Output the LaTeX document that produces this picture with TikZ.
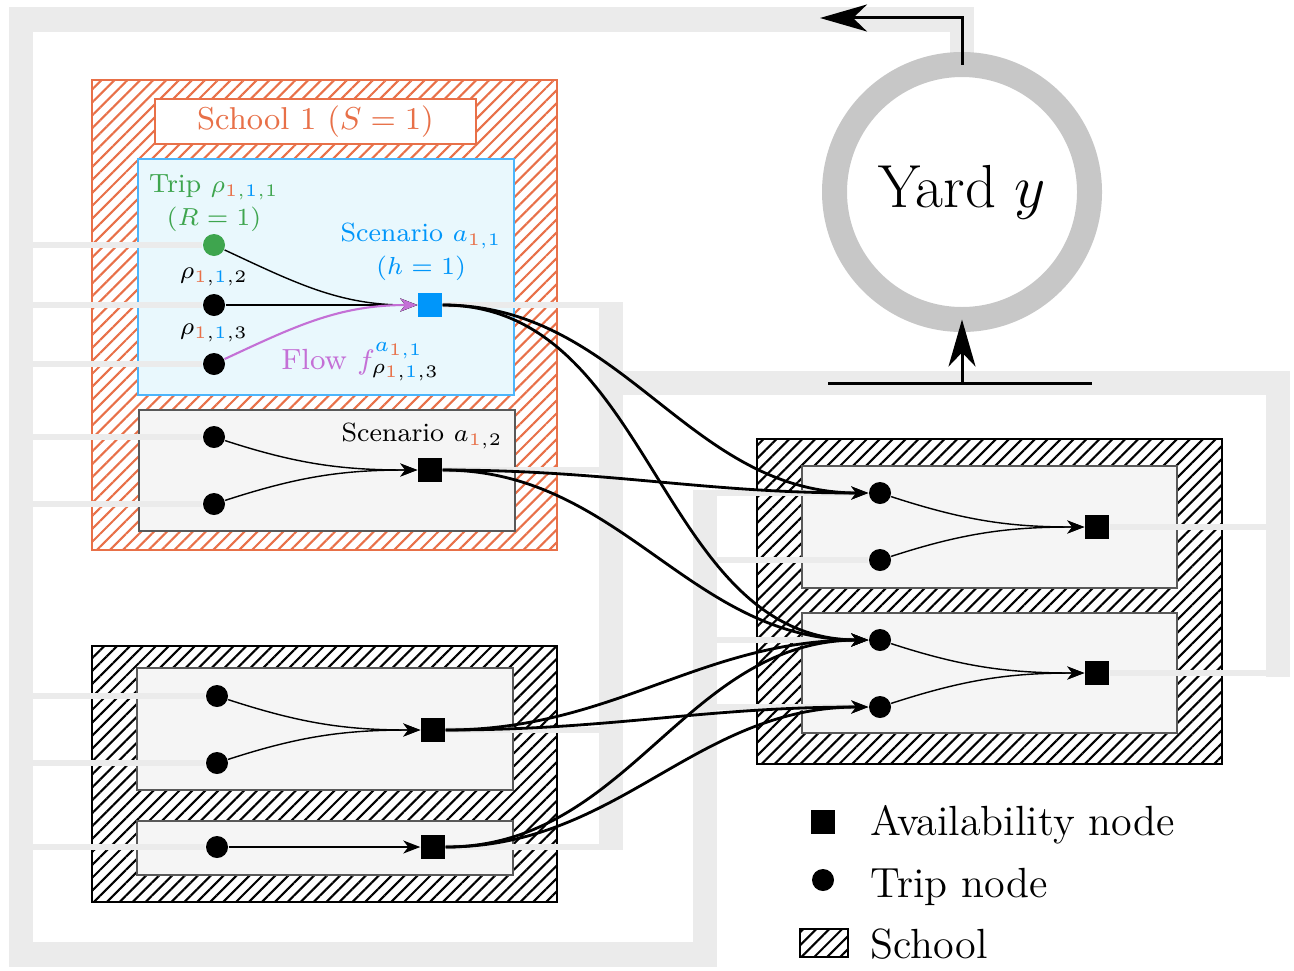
\documentclass[tikz,border=0pt]{standalone}
\usepackage{amsmath, amssymb}
\usepackage{tikz}
\usetikzlibrary{arrows.meta,patterns.meta,calc}
\usepackage{xcolor}
\definecolor{schorange}{RGB}{232,112,72}
\definecolor{scenblue}{RGB}{0,150,250}
\definecolor{tripgreen}{RGB}{62,165,78}
\definecolor{flowpurple}{RGB}{196,112,214}
\definecolor{paleblue}{RGB}{233,248,253}
\tikzstyle{bus}=[line width=0.245cm, black!8]
\tikzstyle{stub}=[line width=0.06cm, black!8]
\tikzstyle{trip}=[circle, fill=black, inner sep=0pt, minimum size=0.22cm]
\tikzstyle{avail}=[rectangle, fill=black, inner sep=0pt, minimum size=0.24cm]
\tikzstyle{scenbox}=[fill=black!4, draw=black!65, thin]
\tikzstyle{link}=[-{Stealth[length=1.7mm,width=1.3mm,inset=0.5mm]}]
\tikzstyle{flowedge}=[link, thick]
\tikzstyle{lbl}=[font=\fontsize{7.5}{9.4}\selectfont, inner sep=0pt, align=center]
\tikzstyle{legend}=[font=\fontsize{12}{14}\selectfont, inner sep=0pt, anchor=base west]
\tikzstyle{bigtip}=[-{Stealth[length=4.7mm,width=2.7mm,inset=1.4mm]}, line width=0.03cm]
\newcommand{\hatchNbox}[3]{
	\draw[thick, draw=#1, pattern={Lines[angle=45, distance=2.6pt, line width=0.6pt]}, pattern color=#1] #2 rectangle #3;
}
\newcommand{\oc}[1]{\textcolor{schorange}{#1}}
\newcommand{\bc}[1]{\textcolor{scenblue}{#1}}

\begin{document}
\begin{tikzpicture}
	\useasboundingbox (0,0) rectangle (12.94,-9.70);
	\coordinate (busL) at (0.21,0);
	\coordinate (busA) at (6.11,0);
	\coordinate (busR) at (7.05,0);
	\coordinate (busE) at (12.78,0);
	\draw[bus] (9.62,-0.65) -- (9.62,-0.195) -- (0.21,-0.195) -- (0.21,-9.545) -- (7.05,-9.545) -- (7.05,-4.90);
	\draw[bus] (6.11,-3.02) -- (6.11,-8.50);
	\draw[bus] (6.11,-3.83) -- (12.78,-3.83) -- (12.78,-6.77);
	\node[circle, draw=black!22, line width=0.25cm, minimum size=2.55cm, inner sep=0pt, outer sep=0pt, font=\fontsize{17.3}{20}\selectfont] (yard) at (9.62,-1.92) {Yard $y$};
	\hatchNbox{schorange}{(0.92,-0.80)}{(5.57,-5.50)}
	\draw[fill=paleblue, draw=scenblue!70, thin] (1.38,-1.59) rectangle (5.14,-3.95);
	\draw[scenbox] (1.39,-4.10) rectangle (5.15,-5.31);
	\hatchNbox{black}{(0.92,-6.46)}{(5.57,-9.02)}
	\draw[scenbox] (1.37,-6.68) rectangle (5.13,-7.90);
	\draw[scenbox] (1.37,-8.21) rectangle (5.13,-8.75);
	\hatchNbox{black}{(7.57,-4.39)}{(12.22,-7.64)}
	\draw[scenbox] (8.02,-4.66) rectangle (11.77,-5.88);
	\draw[scenbox] (8.02,-6.13) rectangle (11.77,-7.33);
	\node[draw=schorange, thin, fill=white, text=schorange, minimum width=3.21cm, minimum height=0.45cm, inner sep=0pt, font=\fontsize{9}{11}\selectfont] (slbl) at (3.155,-1.215) {School 1 $(S=1)$};
	\node[trip, fill=tripgreen] (r111) at (2.14,-2.45) {};
	\node[trip] (r112) at (2.14,-3.05) {};
	\node[trip] (r113) at (2.14,-3.64) {};
	\node[avail, fill=scenblue] (a11) at (4.30,-3.05) {};
	\node[trip] (r121) at (2.14,-4.37) {};
	\node[trip] (r122) at (2.14,-5.04) {};
	\node[avail] (a12) at (4.30,-4.70) {};
	\node[trip] (r211) at (2.17,-6.96) {};
	\node[trip] (r212) at (2.17,-7.63) {};
	\node[avail] (a21) at (4.33,-7.30) {};
	\node[trip] (r221) at (2.17,-8.47) {};
	\node[avail] (a22) at (4.33,-8.47) {};
	\node[trip] (r311) at (8.80,-4.93) {};
	\node[trip] (r312) at (8.80,-5.60) {};
	\node[avail] (a31) at (10.97,-5.27) {};
	\node[trip] (r321) at (8.80,-6.40) {};
	\node[trip] (r322) at (8.80,-7.07) {};
	\node[avail] (a32) at (10.97,-6.73) {};
	\foreach \n in {r111,r112,r113,r121,r122,r211,r212,r221}
		\draw[stub] (\n.west) -- (\n.west -| busL);
	\foreach \n in {a11,a12,a21,a22}
		\draw[stub] (\n.east) -- (\n.east -| busA);
	\foreach \n in {r311,r312,r321,r322}
		\draw[stub] (\n.west) -- (\n.west -| busR);
	\foreach \n in {a31,a32}
		\draw[stub] (\n.east) -- (\n.east -| busE);
	\draw[link] (r111) to[out=-25,in=180] (a11);
	\draw[link] (r112) -- (a11);
	\draw[link, flowpurple, semithick] (r113) to[out=25,in=180] (a11);
	\draw[link] (r121) to[out=-18,in=180] (a12);
	\draw[link] (r122) to[out=18,in=180] (a12);
	\draw[link] (r211) to[out=-18,in=180] (a21);
	\draw[link] (r212) to[out=18,in=180] (a21);
	\draw[link] (r221) -- (a22);
	\draw[link] (r311) to[out=-18,in=180] (a31);
	\draw[link] (r312) to[out=18,in=180] (a31);
	\draw[link] (r321) to[out=-18,in=180] (a32);
	\draw[link] (r322) to[out=18,in=180] (a32);
	\foreach \s/\t in {a11/r311,a11/r321,a12/r311,a12/r321,a21/r321,a21/r322,a22/r321,a22/r322}
		\draw[flowedge] (\s) to[out=0,in=180] (\t);
	\node[lbl, text=tripgreen] at (2.14,-2.035) {Trip $\rho_{\oc{1},\bc{1},1}$\\$(R=1)$};
	\node[lbl] at (2.14,-2.77) {$\rho_{\oc{1},\bc{1},2}$};
	\node[lbl] at (2.14,-3.33) {$\rho_{\oc{1},\bc{1},3}$};
	\node[lbl, text=scenblue] at (4.21,-2.52) {Scenario $a_{\oc{1},1}$\\$(h=1)$};
	\node[lbl, text=flowpurple, font=\fontsize{8.3}{10}\selectfont] at (3.61,-3.62) {Flow $f^{\bc{a_{\oc{1},1}}}_{\textcolor{black}{\rho_{\oc{1},\bc{1},3}}}$};
	\node[lbl] at (4.22,-4.36) {Scenario $a_{\oc{1},2}$};
	\coordinate (ret) at (8.20,-0.18);
	\draw[bigtip] (yard.north) |- (ret);
	\coordinate (barL) at (8.28,-3.83);
	\coordinate (barR) at (10.92,-3.83);
	\draw[line width=0.03cm] (barL) -- (barR);
	\draw[bigtip] (yard.south |- barL) -- (yard.south);
	\node[avail] (lgA) at (8.23,-8.22) {};
	\node[legend] at (8.70,-8.35) {Availability node};
	\node[trip] (lgT) at (8.23,-8.80) {};
	\node[legend] at (8.70,-8.97) {Trip node};
	\hatchNbox{black}{(8.00,-9.29)}{(8.48,-9.57)}
	\node[legend] at (8.70,-9.58) {School};
\end{tikzpicture}
\end{document}
